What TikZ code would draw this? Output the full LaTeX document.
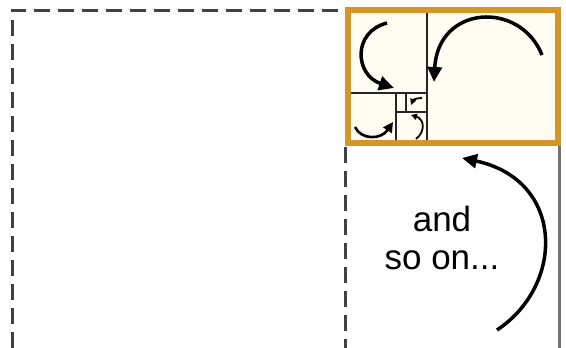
\documentclass[tikz,border=0pt]{standalone}
\usepackage{fontspec}
\setmainfont{Liberation Sans}
\usepackage{xcolor}
\usetikzlibrary{arrows.meta}
\definecolor{frameorange}{RGB}{212,150,42}
\definecolor{framefill}{RGB}{255,253,242}

\begin{document}
\begin{tikzpicture}[x=1pt, y=-1pt,
  guide/.style={draw=black!75, line width=3pt, dash pattern=on 16pt off 8pt},
  side/.style={draw=black!55, line width=3pt},
  split/.style={draw=black!85, line width=2.5pt},
  frame/.style={draw=frameorange, line width=6.5pt},
  turn/.style={-{Triangle[length=15pt,width=14pt]}, line width=3.5pt},
  smallturn/.style={-{Triangle[length=10pt,width=10pt]}, line width=2.6pt},
  tinyturn/.style={-{Triangle[length=6pt,width=6pt]}, line width=1.8pt}
]
  \useasboundingbox (0,0) rectangle (566,348);
  \fill[white] (0,0) rectangle (566,348);

  \draw[guide] (12,348) -- (12,10) -- (345,10);
  \draw[guide] (345,147) -- (345,348);
  \draw[side] (559,146) -- (559,348);

  \fill[framefill] (348,10) rectangle (558,143);
  \draw[split] (427,10) -- (427,143);
  \draw[split] (348,93) -- (427,93);
  \draw[split] (396,93) -- (396,143);
  \draw[split] (396,112) -- (427,112);
  \draw[split] (406,93) -- (406,112);
  \draw[frame] (348,10) rectangle (558,143);

  \draw[turn] (542,55) .. controls (520,0) and (438,5) .. (434,82);
  \draw[turn] (387,23) .. controls (352,32) and (355,75) .. (394,88);
  \draw[smallturn] (355,127) .. controls (361,140) and (381,140) .. (393,122);
  \draw[tinyturn] (416,139) .. controls (426,131) and (424,119) .. (411,115);
  \draw[tinyturn] (422,98) .. controls (416,98) and (413,100) .. (411,105);

  \node[align=center, inner sep=0pt, font=\fontsize{35pt}{38pt}\selectfont]
    (more) at (442,238) {and\\so on...};
  \draw[turn] (497,330) .. controls (565,285) and (565,180) .. (462,158);
\end{tikzpicture}
\end{document}
